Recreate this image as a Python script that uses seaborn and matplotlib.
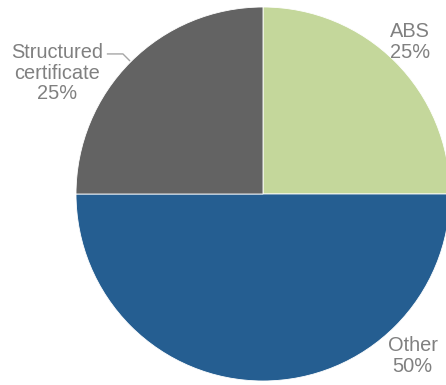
import matplotlib
matplotlib.use("Agg")
import matplotlib.pyplot as plt
import seaborn as sns

categories = ["ABS", "Other", "Structured\ncertificate"]
shares = [25, 50, 25]
colors = ["#C4D79B", "#255E91", "#636363"]

sns.set_theme(style="white")
plt.rcParams['font.family'] = ['Liberation Sans', 'DejaVu Sans']

W, H = 446, 385
fig = plt.figure(figsize=(W / 100, H / 100), dpi=100)
cx, cy, r = 263, 194, 187
ax = fig.add_axes([(cx - r) / W, (H - cy - r) / H, 2 * r / W, 2 * r / H])
ax.pie(shares, colors=colors, startangle=90, counterclock=False,
       wedgeprops=dict(edgecolor="white", linewidth=0.6), radius=1)
ax.set_xlim(-1, 1)
ax.set_ylim(-1, 1)
ax.set_aspect("auto")
ax.axis("off")

tc = "#808080"
pos = [(0.786, 0.813), (0.80, -0.866), (-1.10, 0.647)]
for cat, val, (x, y) in zip(categories, shares, pos):
    ax.text(x, y, f"{cat}\n{val}%", ha="center", va="center", fontsize=14.4,
            color=tc, linespacing=1.08, clip_on=False)

ax.plot([-0.835, -0.749, -0.711], [0.749, 0.749, 0.711], color="#A6A6A6",
        lw=1, clip_on=False, solid_capstyle="butt")

fig.savefig("out.png", dpi=100)
